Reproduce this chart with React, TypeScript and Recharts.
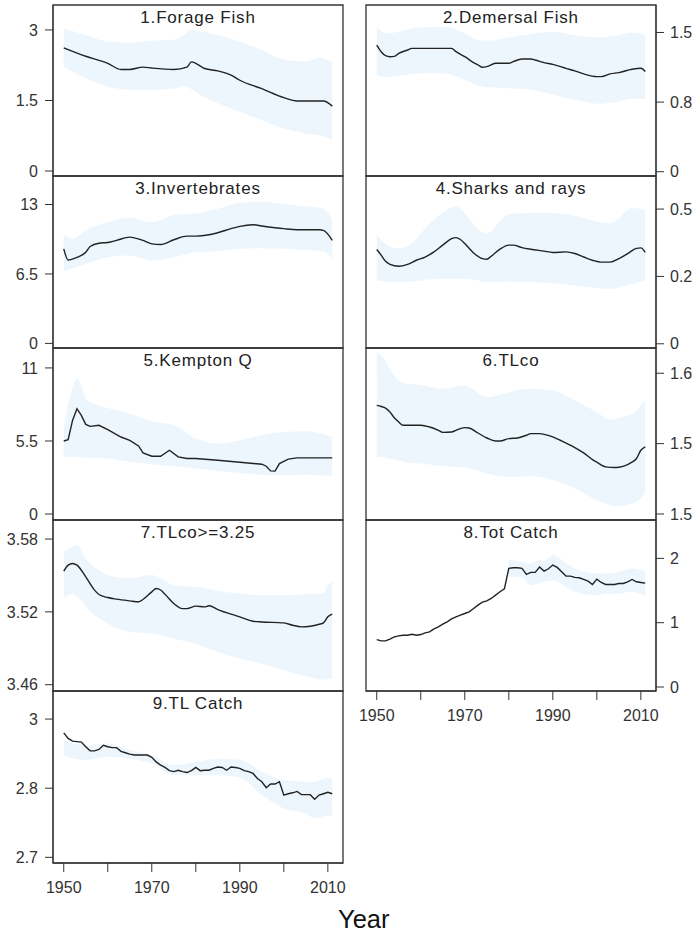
import { ComposedChart, Line, Area, XAxis, YAxis, ReferenceArea } from "recharts";

// ---- x axis (shared) ----
const X_TICKS = [1950, 1960, 1970, 1980, 1990, 2000, 2010];
const X_TICK_LABELS = ["1950", "", "1970", "", "1990", "", "2010"];
const X_DOMAIN: [number, number] = [1947.56, 2013.44];

const ANNUAL_YEARS = [
  1950, 1951, 1952, 1953, 1954, 1955, 1956, 1957, 1958, 1959,
  1960, 1961, 1962, 1963, 1964, 1965, 1966, 1967, 1968, 1969,
  1970, 1971, 1972, 1973, 1974, 1975, 1976, 1977, 1978, 1979,
  1980, 1981, 1982, 1983, 1984, 1985, 1986, 1987, 1988, 1989,
  1990, 1991, 1992, 1993, 1994, 1995, 1996, 1997, 1998, 1999,
  2000, 2001, 2002, 2003, 2004, 2005, 2006, 2007, 2008, 2009,
  2010, 2011,
];

// ---- 1. Forage Fish ----
const FORAGE_YEARS = [1950, 1955, 1960, 1963, 1965, 1968, 1970, 1975, 1978, 1979, 1980, 1982, 1985, 1988, 1990, 1995, 2000, 2003, 2005, 2009, 2011];
const FORAGE_VALUES = [2.62, 2.44, 2.29, 2.16, 2.16, 2.21, 2.19, 2.16, 2.21, 2.32, 2.29, 2.18, 2.13, 2.04, 1.93, 1.75, 1.56, 1.49, 1.49, 1.49, 1.38];
const FORAGE_BAND_YEARS = [1950, 1955, 1960, 1965, 1970, 1975, 1977, 1979, 1981, 1985, 1990, 1995, 2000, 2005, 2008, 2011];
const FORAGE_HIGH = [3.03, 2.89, 2.75, 2.73, 2.77, 2.79, 2.88, 3.01, 2.97, 2.89, 2.75, 2.57, 2.37, 2.33, 2.41, 2.32];
const FORAGE_LOW = [2.21, 1.97, 1.79, 1.73, 1.73, 1.75, 1.8, 1.74, 1.62, 1.44, 1.26, 1.08, 0.91, 0.8, 0.76, 0.66];

// ---- 2. Demersal Fish ----
const DEMERSAL_YEARS = [1950, 1951, 1952, 1953, 1954, 1955, 1957, 1958, 1960, 1965, 1967, 1968, 1970, 1972, 1973, 1974, 1975, 1977, 1980, 1981, 1983, 1985, 1986, 1988, 1990, 1993, 1995, 1997, 2000, 2001, 2003, 2005, 2008, 2010, 2011];
const DEMERSAL_VALUES = [1.364, 1.293, 1.25, 1.239, 1.243, 1.275, 1.311, 1.329, 1.329, 1.329, 1.329, 1.293, 1.239, 1.175, 1.15, 1.125, 1.132, 1.168, 1.168, 1.186, 1.214, 1.214, 1.204, 1.175, 1.157, 1.114, 1.086, 1.054, 1.025, 1.025, 1.054, 1.068, 1.104, 1.114, 1.079];
const DEMERSAL_BAND_YEARS = [1950, 1952, 1955, 1958, 1960, 1965, 1970, 1973, 1975, 1980, 1985, 1990, 1995, 2000, 2005, 2008, 2011];
const DEMERSAL_HIGH = [1.561, 1.489, 1.507, 1.543, 1.554, 1.561, 1.489, 1.418, 1.411, 1.446, 1.482, 1.507, 1.471, 1.446, 1.471, 1.5, 1.471];
const DEMERSAL_LOW = [1.043, 1.018, 1.032, 1.054, 1.061, 1.061, 0.989, 0.93, 0.911, 0.9, 0.882, 0.829, 0.775, 0.732, 0.757, 0.786, 0.782];

// ---- 3. Invertebrates ----
const INVERT_YEARS = [1950, 1951, 1953, 1955, 1956, 1958, 1960, 1962, 1965, 1968, 1970, 1972, 1975, 1978, 1980, 1983, 1985, 1988, 1990, 1993, 1995, 1998, 2000, 2003, 2008, 2009, 2011];
const INVERT_VALUES = [8.85, 7.81, 8.06, 8.53, 9.07, 9.38, 9.45, 9.64, 9.95, 9.64, 9.32, 9.26, 9.7, 10.04, 10.04, 10.17, 10.36, 10.74, 10.96, 11.11, 10.99, 10.83, 10.74, 10.64, 10.64, 10.58, 9.64];
const INVERT_BAND_YEARS = [1950, 1952, 1955, 1960, 1965, 1970, 1975, 1980, 1985, 1990, 1995, 2000, 2005, 2009, 2011];
const INVERT_HIGH = [10.26, 9.8, 10.58, 11.36, 11.77, 11.36, 12.0, 12.15, 12.6, 13.16, 13.25, 13.03, 12.84, 12.62, 11.52];
const INVERT_LOW = [6.8, 7.0, 7.43, 8.06, 8.22, 7.75, 8.06, 8.53, 8.63, 8.85, 8.91, 8.85, 8.75, 8.63, 7.9];

// ---- 4. Sharks and rays ----
const SHARK_YEARS = [1950, 1951, 1952, 1953, 1955, 1957, 1959, 1961, 1963, 1965, 1967, 1968, 1969, 1970, 1972, 1974, 1975, 1976, 1978, 1980, 1981, 1983, 1985, 1988, 1990, 1993, 1995, 1997, 1999, 2001, 2003, 2005, 2007, 2009, 2010, 2011];
const SHARK_VALUES = [0.35, 0.329, 0.306, 0.295, 0.288, 0.295, 0.31, 0.322, 0.341, 0.366, 0.39, 0.394, 0.387, 0.372, 0.337, 0.316, 0.314, 0.325, 0.351, 0.366, 0.366, 0.357, 0.351, 0.344, 0.339, 0.341, 0.335, 0.322, 0.31, 0.303, 0.303, 0.316, 0.335, 0.354, 0.356, 0.339];
const SHARK_BAND_YEARS = [1950, 1953, 1955, 1958, 1960, 1965, 1968, 1970, 1973, 1975, 1978, 1980, 1985, 1990, 1995, 2000, 2003, 2005, 2008, 2011];
const SHARK_HIGH = [0.404, 0.36, 0.354, 0.372, 0.41, 0.485, 0.51, 0.485, 0.425, 0.41, 0.454, 0.482, 0.485, 0.485, 0.475, 0.454, 0.447, 0.466, 0.504, 0.497];
const SHARK_LOW = [0.235, 0.23, 0.228, 0.232, 0.235, 0.241, 0.241, 0.241, 0.235, 0.228, 0.23, 0.231, 0.228, 0.225, 0.216, 0.207, 0.203, 0.21, 0.222, 0.235];

// ---- 5. Kempton Q ----
const KEMPTON_YEARS = [1950, 1951, 1952, 1953, 1954, 1955, 1956, 1958, 1960, 1963, 1965, 1967, 1968, 1970, 1972, 1974, 1976, 1978, 1980, 1985, 1990, 1995, 1996, 1997, 1998, 1999, 2001, 2003, 2011];
const KEMPTON_VALUES = [5.5, 5.6, 7.05, 7.93, 7.43, 6.75, 6.6, 6.68, 6.35, 5.8, 5.55, 5.13, 4.6, 4.35, 4.35, 4.8, 4.3, 4.18, 4.18, 4.05, 3.9, 3.75, 3.6, 3.25, 3.23, 3.8, 4.13, 4.23, 4.23];
const KEMPTON_BAND_YEARS = [1950, 1952, 1953, 1954, 1955, 1958, 1960, 1965, 1970, 1975, 1980, 1985, 1990, 1995, 2000, 2005, 2011];
const KEMPTON_HIGH = [6.55, 9.55, 10.18, 9.68, 8.68, 8.18, 7.98, 7.55, 6.98, 6.68, 5.68, 5.3, 5.55, 5.93, 6.18, 6.23, 5.8];
const KEMPTON_LOW = [4.3, 4.3, 4.28, 4.27, 4.25, 4.2, 4.18, 3.93, 3.75, 3.6, 3.43, 3.23, 3.1, 2.93, 2.93, 2.95, 2.85];

// ---- 6. TLco ----
const TLCO_YEARS = [1950, 1951, 1952, 1953, 1954, 1955, 1956, 1958, 1960, 1962, 1964, 1965, 1967, 1968, 1970, 1971, 1973, 1975, 1977, 1978, 1980, 1982, 1984, 1985, 1987, 1988, 1990, 1992, 1995, 1997, 1999, 2000, 2002, 2004, 2005, 2007, 2008, 2009, 2010, 2011];
const TLCO_VALUES = [1.5657, 1.5646, 1.5629, 1.5586, 1.5526, 1.548, 1.5445, 1.5445, 1.5445, 1.5427, 1.5392, 1.537, 1.5374, 1.5392, 1.542, 1.5416, 1.5363, 1.531, 1.5278, 1.5278, 1.5303, 1.531, 1.5339, 1.5356, 1.5356, 1.5349, 1.5321, 1.5278, 1.5208, 1.5151, 1.508, 1.5052, 1.5002, 1.4995, 1.4998, 1.5027, 1.5052, 1.5091, 1.5179, 1.5215];
const TLCO_BAND_YEARS = [1950, 1952, 1953, 1955, 1957, 1960, 1965, 1970, 1975, 1980, 1985, 1990, 1995, 2000, 2003, 2005, 2008, 2010, 2011];
const TLCO_HIGH = [1.6223, 1.6134, 1.6046, 1.5922, 1.5887, 1.5876, 1.5834, 1.5869, 1.5745, 1.5798, 1.5834, 1.5816, 1.571, 1.5586, 1.5505, 1.5526, 1.5568, 1.5657, 1.5728];
const TLCO_LOW = [1.5109, 1.51, 1.509, 1.5073, 1.505, 1.5038, 1.501, 1.4995, 1.4932, 1.4896, 1.4903, 1.4861, 1.4773, 1.4649, 1.4596, 1.4585, 1.4606, 1.467, 1.472];

// ---- 7. TLco>=3.25 ----
const TLCO325_YEARS = [1950, 1951, 1952, 1953, 1955, 1957, 1958, 1960, 1962, 1965, 1967, 1968, 1970, 1971, 1972, 1973, 1975, 1977, 1978, 1980, 1982, 1983, 1985, 1988, 1990, 1993, 1995, 2000, 2002, 2004, 2006, 2008, 2009, 2010, 2011];
const TLCO325_VALUES = [3.5536, 3.5585, 3.5599, 3.5585, 3.5489, 3.5379, 3.5343, 3.5318, 3.5305, 3.5291, 3.5283, 3.5302, 3.5365, 3.5393, 3.538, 3.5346, 3.5269, 3.5227, 3.5227, 3.5247, 3.5241, 3.525, 3.5219, 3.5181, 3.5159, 3.5123, 3.5117, 3.5109, 3.509, 3.5076, 3.5082, 3.5098, 3.5109, 3.5159, 3.5181];
const TLCO325_BAND_YEARS = [1950, 1952, 1953, 1955, 1958, 1960, 1965, 1970, 1975, 1980, 1985, 1990, 1995, 2000, 2005, 2009, 2010, 2011];
const TLCO325_HIGH = [3.5695, 3.5737, 3.575, 3.564, 3.5544, 3.5503, 3.5475, 3.5503, 3.542, 3.5406, 3.5373, 3.5351, 3.5338, 3.5338, 3.5346, 3.5351, 3.542, 3.5448];
const TLCO325_LOW = [3.531, 3.5351, 3.533, 3.5241, 3.515, 3.5104, 3.5035, 3.5021, 3.498, 3.4933, 3.487, 3.4815, 3.4773, 3.4718, 3.4669, 3.4641, 3.4645, 3.465];

// ---- 8. Tot Catch (annual) ----
const TOTCATCH_VALUES = [
  0.738, 0.717, 0.717, 0.743, 0.779, 0.795, 0.805, 0.805, 0.821, 0.805,
  0.816, 0.842, 0.857, 0.904, 0.935, 0.977, 1.013, 1.06, 1.091, 1.117,
  1.143, 1.169, 1.221, 1.273, 1.319, 1.34, 1.377, 1.429, 1.481, 1.527,
  1.844, 1.855, 1.855, 1.844, 1.751, 1.782, 1.782, 1.865, 1.803, 1.839,
  1.896, 1.86, 1.792, 1.725, 1.725, 1.704, 1.699, 1.673, 1.647, 1.595,
  1.678, 1.626, 1.595, 1.595, 1.595, 1.61, 1.61, 1.636, 1.673, 1.636,
  1.626, 1.616,
];
const TOTCATCH_BAND_YEARS = [1980, 1983, 1985, 1987, 1988, 1990, 1992, 1995, 2000, 2003, 2005, 2008, 2011];
const TOTCATCH_HIGH = [1.974, 1.948, 1.922, 1.974, 1.96, 2.052, 1.974, 1.844, 1.766, 1.766, 1.792, 1.844, 1.792];
const TOTCATCH_LOW = [1.714, 1.704, 1.584, 1.62, 1.636, 1.662, 1.6, 1.481, 1.429, 1.455, 1.455, 1.481, 1.403];

// ---- 9. TL Catch (annual) ----
const TLCATCH_VALUES = [
  2.97, 2.958, 2.952, 2.951, 2.95, 2.94, 2.931, 2.931, 2.934, 2.943,
  2.94, 2.938, 2.938, 2.93, 2.927, 2.924, 2.922, 2.922, 2.922, 2.922,
  2.917, 2.907, 2.9, 2.895, 2.888, 2.886, 2.889, 2.886, 2.884, 2.888,
  2.895, 2.888, 2.889, 2.889, 2.893, 2.896, 2.895, 2.889, 2.896, 2.895,
  2.893, 2.888, 2.886, 2.882, 2.871, 2.864, 2.851, 2.859, 2.859, 2.864,
  2.835, 2.838, 2.84, 2.843, 2.836, 2.836, 2.836, 2.826, 2.835, 2.838,
  2.841, 2.838,
];
const TLCATCH_BAND_YEARS = [1950, 1955, 1960, 1965, 1970, 1975, 1980, 1985, 1990, 1995, 2000, 2005, 2007, 2010, 2011];
const TLCATCH_HIGH = [2.954, 2.943, 2.947, 2.933, 2.922, 2.9, 2.907, 2.914, 2.912, 2.886, 2.867, 2.864, 2.864, 2.873, 2.867];
const TLCATCH_LOW = [2.92, 2.911, 2.918, 2.914, 2.904, 2.878, 2.878, 2.878, 2.873, 2.835, 2.806, 2.795, 2.784, 2.791, 2.789];

// layout
const ROW_EDGES = [5, 176, 348, 520, 691, 863];
const X_AXIS_H = 40;
const PAD_BOTTOM = 10; // room so the lowest tick label is not clipped
const BAND_FILL = "#edf6fd";
const INK = "#333";
const FONT = "Arial, 'Liberation Sans', sans-serif";

interface PanelDef {
  title: string;
  col: 0 | 1;
  row: number;
  showX: boolean;
  smooth: boolean;
  years: number[];
  values: number[];
  bandYears: number[];
  bandLow: number[];
  bandHigh: number[];
  domain: [number, number];
  ticks: number[];
  tickLabels: string[];
}

const PANELS: PanelDef[] = [
  { title: "1.Forage Fish", col: 0, row: 0, showX: false, smooth: true, years: FORAGE_YEARS, values: FORAGE_VALUES, bandYears: FORAGE_BAND_YEARS, bandLow: FORAGE_LOW, bandHigh: FORAGE_HIGH, domain: [-0.106, 3.53], ticks: [0, 1.5, 3], tickLabels: ["0", "1.5", "3"] },
  { title: "2.Demersal Fish", col: 1, row: 0, showX: false, smooth: true, years: DEMERSAL_YEARS, values: DEMERSAL_VALUES, bandYears: DEMERSAL_BAND_YEARS, bandLow: DEMERSAL_LOW, bandHigh: DEMERSAL_HIGH, domain: [-0.046, 1.796], ticks: [0, 0.75, 1.5], tickLabels: ["0", "0.8", "1.5"] },
  { title: "3.Invertebrates", col: 0, row: 1, showX: false, smooth: true, years: INVERT_YEARS, values: INVERT_VALUES, bandYears: INVERT_BAND_YEARS, bandLow: INVERT_LOW, bandHigh: INVERT_HIGH, domain: [-0.43, 15.67], ticks: [0, 6.5, 13], tickLabels: ["0", "6.5", "13"] },
  { title: "4.Sharks and rays", col: 1, row: 1, showX: false, smooth: true, years: SHARK_YEARS, values: SHARK_VALUES, bandYears: SHARK_BAND_YEARS, bandLow: SHARK_LOW, bandHigh: SHARK_HIGH, domain: [-0.0156, 0.6227], ticks: [0, 0.25, 0.5], tickLabels: ["0", "0.2", "0.5"] },
  { title: "5.Kempton Q", col: 0, row: 2, showX: false, smooth: false, years: KEMPTON_YEARS, values: KEMPTON_VALUES, bandYears: KEMPTON_BAND_YEARS, bandLow: KEMPTON_LOW, bandHigh: KEMPTON_HIGH, domain: [-0.45, 12.5], ticks: [0, 5.5, 11], tickLabels: ["0", "5.5", "11"] },
  { title: "6.TLco", col: 1, row: 2, showX: false, smooth: true, years: TLCO_YEARS, values: TLCO_VALUES, bandYears: TLCO_BAND_YEARS, bandLow: TLCO_LOW, bandHigh: TLCO_HIGH, domain: [1.4436, 1.6269], ticks: [1.45, 1.525, 1.6], tickLabels: ["1.5", "1.5", "1.6"] },
  { title: "7.TLco>=3.25", col: 0, row: 3, showX: false, smooth: true, years: TLCO325_YEARS, values: TLCO325_VALUES, bandYears: TLCO325_BAND_YEARS, bandLow: TLCO325_LOW, bandHigh: TLCO325_HIGH, domain: [3.4548, 3.5957], ticks: [3.46, 3.52, 3.58], tickLabels: ["3.46", "3.52", "3.58"] },
  { title: "8.Tot Catch", col: 1, row: 3, showX: true, smooth: false, years: ANNUAL_YEARS, values: TOTCATCH_VALUES, bandYears: TOTCATCH_BAND_YEARS, bandLow: TOTCATCH_LOW, bandHigh: TOTCATCH_HIGH, domain: [-0.062, 2.597], ticks: [0, 1, 2], tickLabels: ["0", "1", "2"] },
  { title: "9.TL Catch", col: 0, row: 4, showX: true, smooth: false, years: ANNUAL_YEARS, values: TLCATCH_VALUES, bandYears: TLCATCH_BAND_YEARS, bandLow: TLCATCH_LOW, bandHigh: TLCATCH_HIGH, domain: [2.6877, 3.0609], ticks: [2.7, 2.85, 3], tickLabels: ["2.7", "2.8", "3"] },
];

function Panel({ p }: { p: PanelDef }) {
  const left = p.col === 0;
  const boxTop = ROW_EDGES[p.row];
  const boxH = ROW_EDGES[p.row + 1] - boxTop;
  const bottomPad = p.showX ? 1 : PAD_BOTTOM;
  const height = boxH + 1 + bottomPad + (p.showX ? X_AXIS_H : 0);
  const lineData = p.years.map((year, i) => ({ year, v: p.values[i] }));
  const bandData = p.bandYears.map((year, i) => ({ year, band: [p.bandLow[i], p.bandHigh[i]] }));
  const tickStyle = { fill: INK, fontSize: 16, fontFamily: FONT };

  return (
    <div style={{ position: "absolute", left: left ? 0 : 350, top: boxTop - 1, width: 350, height }}>
      <ComposedChart
        width={350}
        height={height}
        margin={
          left
            ? { top: 1, right: 7, bottom: bottomPad, left: 8 }
            : { top: 1, right: 0, bottom: bottomPad, left: 16 }
        }
      >
        <XAxis
          type="number"
          dataKey="year"
          domain={X_DOMAIN}
          ticks={X_TICKS}
          allowDataOverflow
          hide={!p.showX}
          height={X_AXIS_H}
          tickSize={9}
          tickMargin={10}
          stroke={INK}
          tick={tickStyle}
          interval={0}
          tickFormatter={(v: number) => X_TICK_LABELS[X_TICKS.indexOf(v)] ?? ""}
        />
        <YAxis
          type="number"
          orientation={left ? "left" : "right"}
          domain={p.domain}
          ticks={p.ticks}
          allowDataOverflow
          width={left ? 45 : 44}
          tickSize={8}
          tickMargin={left ? 7 : 6}
          stroke={INK}
          tick={tickStyle}
          interval={0}
          tickFormatter={(v: number) => p.tickLabels[p.ticks.indexOf(v)] ?? String(v)}
        />
        <Area
          data={bandData}
          dataKey="band"
          type="monotone"
          fill={BAND_FILL}
          fillOpacity={1}
          stroke="none"
          isAnimationActive={false}
        />
        <Line
          data={lineData}
          dataKey="v"
          type={p.smooth ? "monotone" : "linear"}
          stroke="#222"
          strokeWidth={1.4}
          dot={false}
          isAnimationActive={false}
        />
        <ReferenceArea
          x1={X_DOMAIN[0]}
          x2={X_DOMAIN[1]}
          y1={p.domain[0]}
          y2={p.domain[1]}
          fill="none"
          stroke={INK}
          strokeWidth={1.3}
          ifOverflow="visible"
        />
      </ComposedChart>
      <div
        style={{
          position: "absolute",
          left: left ? 198 : 161,
          top: 5,
          transform: "translateX(-50%)",
          fontFamily: FONT,
          fontSize: 17,
          letterSpacing: 0.8,
          lineHeight: 1,
          color: "#222",
          whiteSpace: "nowrap",
        }}
      >
        {p.title}
      </div>
    </div>
  );
}

export default function App() {
  return (
    <div
      style={{
        position: "absolute",
        left: 0,
        top: 0,
        width: 700,
        height: 934,
        background: "#fff",
        fontFamily: FONT,
        overflow: "hidden",
      }}
    >
      {PANELS.map((p) => (
        <Panel key={p.title} p={p} />
      ))}
      <div
        style={{
          position: "absolute",
          left: 338,
          top: 907,
          fontSize: 25.5,
          lineHeight: 1,
          color: "#111",
        }}
      >
        Year
      </div>
    </div>
  );
}
